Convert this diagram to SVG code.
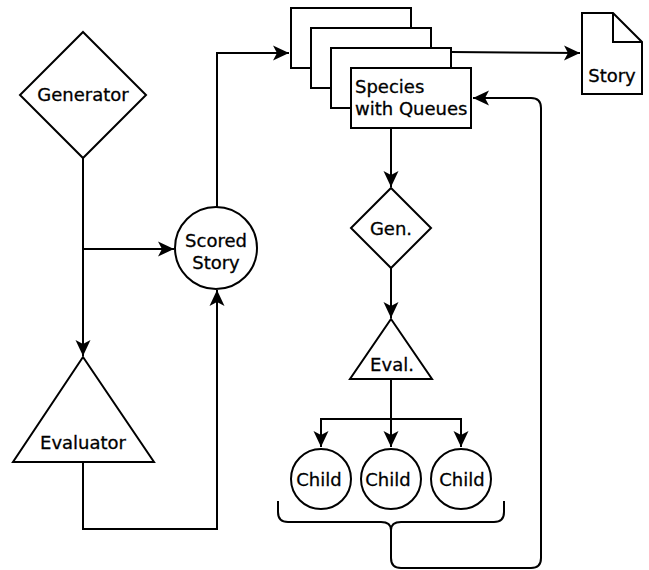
<svg xmlns="http://www.w3.org/2000/svg" width="649" height="570" viewBox="0 0 649 570">
<style>
.s{fill:#fff;stroke:#000;stroke-width:2}
.c{fill:none;stroke:#000;stroke-width:2}
.t{font-family:"DejaVu Sans",sans-serif;font-size:18px;fill:#000;stroke:#000;stroke-width:0.3}
.m{text-anchor:middle}
</style>
<defs>
<marker id="a" markerUnits="userSpaceOnUse" viewBox="-17 -9 18 18" refX="0" refY="0" markerWidth="18" markerHeight="18" orient="auto-start-reverse">
<path d="M0,0 L-16,-7.5 L-12,0 L-16,7.5 Z" fill="#000"/>
</marker>
</defs>
<rect width="649" height="570" fill="#fff"/>
<g id="connectors">
<path class="c" d="M83,158 V356" marker-end="url(#a)"/>
<path class="c" d="M83,249 H174" marker-end="url(#a)"/>
<path class="c" d="M83,462 V529 H217 V290" marker-end="url(#a)"/>
<path class="c" d="M217,207 V53 H289" marker-end="url(#a)"/>
<path class="c" d="M451,52 L580,53" marker-end="url(#a)"/>
<path class="c" d="M391,128 V187" marker-end="url(#a)"/>
<path class="c" d="M391,268 V318" marker-end="url(#a)"/>
<path class="c" d="M391,379 V447" marker-end="url(#a)"/>
<path class="c" d="M321,447 V419 H461 V447" marker-start="url(#a)" marker-end="url(#a)"/>
<path class="c" d="M391,528 V558 Q391,568 401,568 H531 Q541,568 541,558 V108 Q541,98 531,98 H473" marker-end="url(#a)"/>
</g>
<g id="generator">
<polygon class="s" points="83,32 146,95 83,158 20,95"/>
<text class="t m" x="83" y="101">Generator</text>
</g>
<g id="evaluator">
<polygon class="s" points="83,357 154,462 13,462"/>
<text class="t m" x="83" y="449">Evaluator</text>
</g>
<g id="scored-story">
<circle class="s" cx="216" cy="248" r="41"/>
<text class="t m" x="216" y="247">Scored</text>
<text class="t m" x="216" y="269">Story</text>
</g>
<g id="species">
<rect class="s" x="291" y="8" width="120" height="60"/>
<rect class="s" x="311" y="28" width="120" height="60"/>
<rect class="s" x="331" y="48" width="120" height="60"/>
<rect class="s" x="351" y="68" width="120" height="60"/>
<text class="t" x="355" y="93">Species</text>
<text class="t" x="355" y="115">with Queues</text>
</g>
<g id="story-doc">
<path class="s" d="M582,13 H613 L642,42 V94 H582 Z"/>
<path class="c" d="M613,13 V42 H642"/>
<text class="t m" x="612" y="82">Story</text>
</g>
<g id="gen">
<polygon class="s" points="391,188 431,228 391,268 351,228"/>
<text class="t m" x="391" y="235">Gen.</text>
</g>
<g id="eval">
<polygon class="s" points="391,319 432,379 350,379"/>
<text class="t m" x="392" y="371">Eval.</text>
</g>
<g id="child1">
<circle class="s" cx="321" cy="479" r="30"/>
<text class="t m" x="319" y="486">Child</text>
</g>
<g id="child2">
<circle class="s" cx="391" cy="479" r="30"/>
<text class="t m" x="388" y="486">Child</text>
</g>
<g id="child3">
<circle class="s" cx="461" cy="479" r="30"/>
<text class="t m" x="462" y="486">Child</text>
</g>
<g id="brace">
<path class="c" d="M278,501 V512 Q278,522 288,522 H381 Q391,522 391,530 Q391,522 401,522 H494 Q504,522 504,512 V501"/>
</g>
</svg>
